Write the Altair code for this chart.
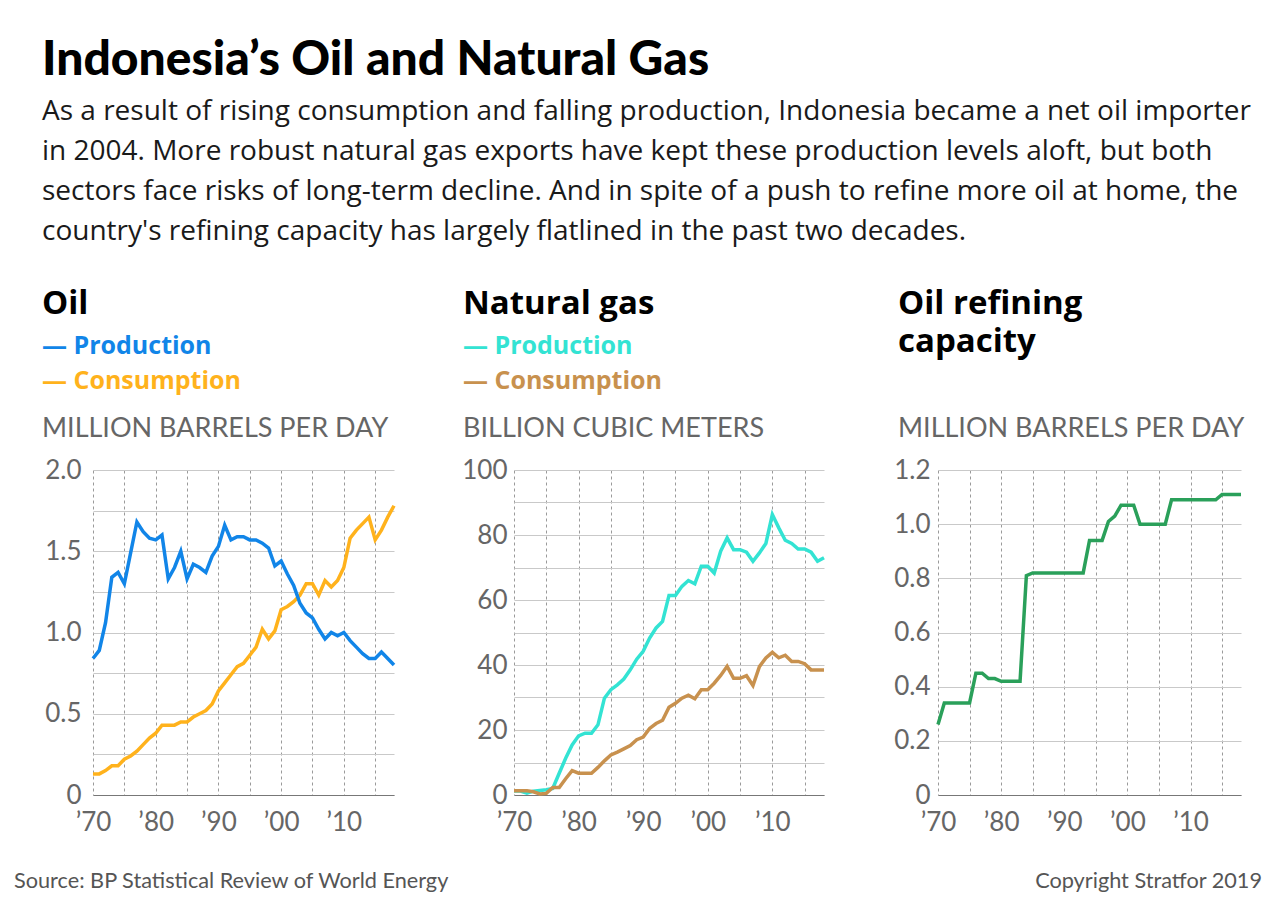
import altair as alt
import pandas as pd

FONT = "Lato"
TEXT_FONT = "Open Sans"

years = list(range(1970, 2019))

# Oil, million barrels per day
oil_production = [
    0.84, 0.89, 1.06, 1.34, 1.37, 1.30, 1.49, 1.68, 1.62, 1.58,
    1.57, 1.60, 1.33, 1.40, 1.50, 1.33, 1.42, 1.40, 1.37, 1.47,
    1.53, 1.66, 1.57, 1.59, 1.59, 1.57, 1.57, 1.55, 1.52, 1.41,
    1.44, 1.36, 1.29, 1.18, 1.12, 1.09, 1.02, 0.96, 1.00, 0.98,
    1.00, 0.95, 0.91, 0.87, 0.84, 0.84, 0.88, 0.84, 0.80,
]
oil_consumption = [
    0.13, 0.13, 0.15, 0.18, 0.18, 0.22, 0.24, 0.27, 0.31, 0.35,
    0.38, 0.43, 0.43, 0.43, 0.45, 0.45, 0.48, 0.50, 0.52, 0.56,
    0.64, 0.69, 0.74, 0.79, 0.81, 0.86, 0.91, 1.02, 0.96, 1.01,
    1.14, 1.16, 1.19, 1.23, 1.30, 1.30, 1.23, 1.32, 1.28, 1.32,
    1.40, 1.58, 1.63, 1.67, 1.71, 1.57, 1.63, 1.71, 1.78,
]

# Natural gas, billion cubic meters
gas_production = [
    1.2, 1.2, 0.6, 1.2, 1.4, 1.6, 2.0, 6.7, 11.3, 15.4,
    18.2, 19.0, 19.0, 21.6, 29.8, 32.4, 33.9, 35.7, 38.5, 41.8,
    44.2, 48.3, 51.4, 53.4, 61.4, 61.4, 64.2, 66.0, 65.0, 70.4,
    70.4, 68.3, 75.0, 79.1, 75.5, 75.5, 74.7, 71.9, 74.5, 77.4,
    86.3, 82.2, 78.4, 77.4, 75.7, 75.7, 74.7, 71.9, 73.0,
]
gas_consumption = [
    1.3, 1.3, 1.3, 1.0, 0.3, 0.5, 2.3, 2.3, 5.0, 7.5,
    6.7, 6.7, 6.7, 8.5, 10.5, 12.3, 13.2, 14.2, 15.2, 17.0,
    17.8, 20.5, 22.0, 23.0, 27.0, 28.2, 29.8, 30.7, 29.6, 32.4,
    32.4, 34.4, 36.8, 39.6, 35.9, 35.9, 36.7, 33.7, 39.5, 42.2,
    43.9, 42.2, 43.0, 41.1, 41.1, 40.4, 38.5, 38.5, 38.5,
]

# Refining capacity, million barrels per day
refining_capacity = [
    0.26, 0.34, 0.34, 0.34, 0.34, 0.34, 0.45, 0.45, 0.43, 0.43,
    0.42, 0.42, 0.42, 0.42, 0.81, 0.82, 0.82, 0.82, 0.82, 0.82,
    0.82, 0.82, 0.82, 0.82, 0.94, 0.94, 0.94, 1.01, 1.03, 1.07,
    1.07, 1.07, 1.00, 1.00, 1.00, 1.00, 1.00, 1.09, 1.09, 1.09,
    1.09, 1.09, 1.09, 1.09, 1.09, 1.11, 1.11, 1.11, 1.11,
]

grid_years = list(range(1970, 2016, 5))

BLUE = "#1185e8"
ORANGE = "#ffb21c"
TURQUOISE = "#33e3d3"
BROWN = "#c8914e"
GREEN = "#2aa05a"
AXIS_GRAY = "#666666"

LINE_W = 3.5
PLOT_H = 325
TICK_SIZE = 26


def x_axis():
    return alt.Axis(
        values=grid_years,
        labelExpr="datum.value % 10 == 0 ? '\u2019' + slice(toString(datum.value), 2) : ''",
        grid=True, gridDash=[3, 3], gridColor="#9a9a9a", gridWidth=1,
        ticks=False, domain=True, domainColor="#777777", domainWidth=1.2,
        labelFont=FONT, labelFontSize=TICK_SIZE, labelColor=AXIS_GRAY,
        labelPadding=14, labelFlush=False, labelOverlap=False, title=None,
    )


def y_axis(values, label_expr, pad):
    return alt.Axis(
        values=values, labelExpr=label_expr,
        grid=True, gridColor="#c9c9c9", gridWidth=1,
        ticks=False, domain=False,
        labelFont=FONT, labelFontSize=TICK_SIZE, labelColor=AXIS_GRAY,
        labelPadding=pad, labelBaseline="middle", labelOverlap=False, title=None,
    )


def lines(series, colors, y_domain, y_ax):
    rows = []
    for name, values in series:
        rows += [{"year": y, "value": v, "series": name} for y, v in zip(years, values)]
    df = pd.DataFrame(rows)
    names = [name for name, _ in series]
    return alt.Chart(df).mark_line(strokeWidth=LINE_W, clip=False).encode(
        x=alt.X("year:Q", scale=alt.Scale(domain=[1970, 2018], nice=False, zero=False), axis=x_axis()),
        y=alt.Y("value:Q", scale=alt.Scale(domain=y_domain, nice=False), axis=y_ax),
        color=alt.Color("series:N", scale=alt.Scale(domain=names, range=colors), legend=None),
        order=alt.Order("year:Q"),
    )


def note(text, x, y, size, color, weight="normal", align="left", font=TEXT_FONT):
    return alt.Chart(pd.DataFrame({"t": [text]})).mark_text(
        align=align, baseline="alphabetic", font=font, fontSize=size,
        fontWeight=weight, color=color, lineBreak="\n", lineHeight=38,
    ).encode(x=alt.value(x), y=alt.value(y), text="t:N")


TITLE_Y = -156
LEG1_Y = -116
LEG2_Y = -81
UNIT_Y = -33
HEAD_SIZE = 33
LEG_SIZE = 25
UNIT_SIZE = 27
FOOT_SIZE = 21.7

# --- Oil panel ---
oil_yaxis = y_axis(
    [i * 0.25 for i in range(9)],
    "datum.value == 0 ? '0' : ((datum.value * 2) % 1 == 0 ? format(datum.value, '.1f') : '')",
    12,
)
oil = alt.layer(
    lines([("Consumption", oil_consumption), ("Production", oil_production)],
          [ORANGE, BLUE], [0, 2], oil_yaxis),
    note("Oil", -51, TITLE_Y, HEAD_SIZE, "#000000", "bold"),
    note("\u2014 Production", -51, LEG1_Y, LEG_SIZE, BLUE, "bold"),
    note("\u2014 Consumption", -51, LEG2_Y, LEG_SIZE, ORANGE, "bold"),
    note("MILLION BARRELS PER DAY", -51, UNIT_Y, UNIT_SIZE, AXIS_GRAY, font=FONT),
    note("Source: BP Statistical Review of World Energy", -79, 418, FOOT_SIZE, "#555555", font=FONT),
).properties(width=301, height=PLOT_H)

# --- Natural gas panel ---
gas_yaxis = y_axis(
    list(range(0, 101, 10)),
    "datum.value % 20 == 0 ? format(datum.value, 'd') : ''",
    7,
)
gas = alt.layer(
    lines([("Production", gas_production), ("Consumption", gas_consumption)],
          [TURQUOISE, BROWN], [0, 100], gas_yaxis),
    note("Natural gas", -51, TITLE_Y, HEAD_SIZE, "#000000", "bold"),
    note("\u2014 Production", -51, LEG1_Y, LEG_SIZE, TURQUOISE, "bold"),
    note("\u2014 Consumption", -51, LEG2_Y, LEG_SIZE, BROWN, "bold"),
    note("BILLION CUBIC METERS", -51, UNIT_Y, UNIT_SIZE, AXIS_GRAY, font=FONT),
).properties(width=310, height=PLOT_H)

# --- Refining capacity panel ---
ref_yaxis = y_axis(
    [round(i * 0.2, 1) for i in range(7)],
    "datum.value == 0 ? '0' : format(datum.value, '.1f')",
    8,
)
refining = alt.layer(
    lines([("Capacity", refining_capacity)], [GREEN], [0, 1.2], ref_yaxis),
    note("Oil refining\ncapacity", -40, TITLE_Y, HEAD_SIZE, "#000000", "bold"),
    note("MILLION BARRELS PER DAY", -40, UNIT_Y, UNIT_SIZE, AXIS_GRAY, font=FONT),
    note("Copyright Stratfor 2019", 324, 418, FOOT_SIZE, "#555555", align="right", font=FONT),
).properties(width=303, height=PLOT_H)

subtitle_lines = [
    "As a result of rising consumption and falling production, Indonesia became a net oil importer",
    "in 2004. More robust natural gas exports have kept these production levels aloft, but both",
    "sectors face risks of long-term decline. And in spite of a push to refine more oil at home, the",
    "country's refining capacity has largely flatlined in the past two decades.",
]

chart = alt.hconcat(
    alt.hconcat(oil, gas, spacing=10).resolve_scale(color="independent"),
    refining,
    spacing=62,
).resolve_scale(
    color="independent"
).properties(
    title=alt.TitleParams(
        text="Indonesia\u2019s Oil and Natural Gas",
        subtitle=subtitle_lines,
        anchor="start", dx=28,
        font=FONT, fontSize=48, fontWeight=900, color="#000000",
        subtitleFont=TEXT_FONT, subtitleFontSize=28, subtitleColor="#1a1a1a",
        subtitleLineHeight=40, subtitlePadding=13, offset=42,
    ),
    padding={"left": 14, "top": 37, "right": 5, "bottom": 5},
    background="#ffffff",
).configure_view(stroke=None)

chart.save("out.html", embed_options={"renderer": "svg", "actions": False})
